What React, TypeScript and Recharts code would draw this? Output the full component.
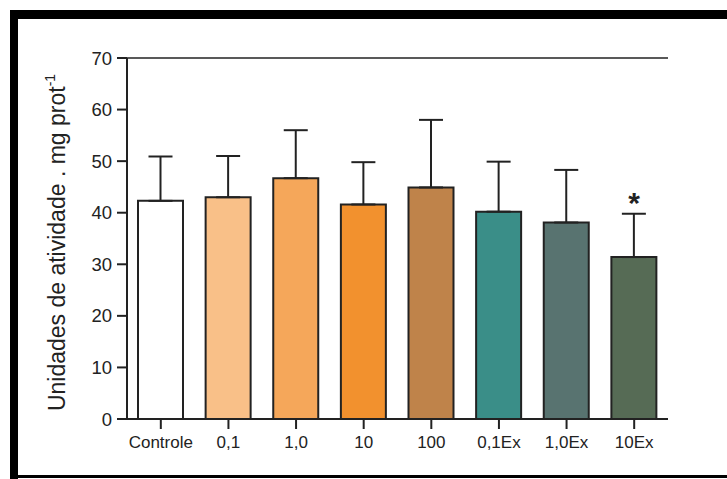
import { ComposedChart, Bar, Cell, ErrorBar, XAxis, YAxis, ReferenceLine, Line } from 'recharts';

const categories = ['Controle', '0,1', '1,0', '10', '100', '0,1Ex', '1,0Ex', '10Ex'];
const means = [42.3, 43.0, 46.7, 41.6, 44.9, 40.2, 38.1, 31.4];
const upperErrors = [8.6, 8.0, 9.3, 8.2, 13.1, 9.7, 10.2, 8.4];
const marks = ['', '', '', '', '', '', '', '*'];
const barColors = ['#ffffff', '#f9c088', '#f5a75a', '#f2912e', '#bf834a', '#3a8e88', '#587370', '#566b55'];
const yTicks = [0, 10, 20, 30, 40, 50, 60, 70];

const FONT = '"Liberation Sans", Arial, sans-serif';
const INK = '#222';

const data = categories.map((name, i) => ({
  name,
  mean: means[i],
  err: [0, upperErrors[i]],
  mark: marks[i],
  // asterisk sits a little above the error bar
  markY: marks[i] ? means[i] + upperErrors[i] + 3.4 : null,
}));

function StarDot(props: any) {
  const { cx, cy, payload, index } = props;
  if (cy == null || !payload?.mark) return <g key={`s${index}`} />;
  return (
    <text key={`s${index}`} x={cx} y={cy + 17} textAnchor="middle" fontSize={30} fontWeight="bold" fontFamily={FONT} fill={INK}>
      {payload.mark}
    </text>
  );
}

function XTick(props: any) {
  const { x, y, payload } = props;
  return (
    <text x={x} y={y + 17} textAnchor="middle" fontSize={17} fontFamily={FONT} fill={INK}>
      {payload.value}
    </text>
  );
}

function YTick(props: any) {
  const { x, y, payload } = props;
  return (
    <text x={x - 3} y={y + 6.5} textAnchor="end" fontSize={18.5} fontFamily={FONT} fill={INK}>
      {payload.value}
    </text>
  );
}

function YLabel(props: any) {
  const vb = props.viewBox || { x: 0, y: 58, width: 127, height: 361 };
  const x = 65;
  const y = vb.y + vb.height / 2 + 4;
  return (
    <text x={x} y={y} transform={`rotate(-90, ${x}, ${y})`} textAnchor="middle" fontSize={23} fontFamily={FONT} fill={INK}>
      Unidades de atividade . mg prot<tspan dy={-10} fontSize={14}>-1</tspan>
    </text>
  );
}

export default function App() {
  return (
    <div style={{ position: 'absolute', left: 0, top: 0, width: 727, height: 479, background: '#fff', overflow: 'hidden' }}>
      <ComposedChart width={727} height={479} data={data} margin={{ top: 58, right: 59, bottom: 0, left: 0 }}>
        <XAxis
          dataKey="name"
          height={60}
          tickSize={10}
          axisLine={{ stroke: INK, strokeWidth: 2 }}
          tickLine={{ stroke: INK, strokeWidth: 2 }}
          tick={<XTick />}
          interval={0}
        />
        <YAxis
          domain={[0, 70]}
          ticks={yTicks}
          width={127}
          tickSize={10}
          axisLine={{ stroke: INK, strokeWidth: 2 }}
          tickLine={{ stroke: INK, strokeWidth: 2 }}
          tick={<YTick />}
          label={{ content: (p: any) => <YLabel {...p} /> }}
        />
        <YAxis yAxisId="right" orientation="right" domain={[0, 70]} width={0} tick={false} tickLine={false} axisLine={{ stroke: INK, strokeWidth: 1.5 }} />
        <ReferenceLine y={70} stroke={INK} strokeWidth={1.5} />
        <Bar dataKey="mean" barSize={45} stroke={INK} strokeWidth={2} isAnimationActive={false}>
          {data.map((d, i) => (
            <Cell key={d.name} fill={barColors[i]} />
          ))}
          <ErrorBar dataKey="err" width={12} stroke={INK} strokeWidth={2} direction="y" />
        </Bar>
        <Line dataKey="markY" stroke="none" dot={<StarDot />} activeDot={false} legendType="none" isAnimationActive={false} />
      </ComposedChart>
      <div style={{ position: 'absolute', left: 10, top: 10, right: 0, height: 9, background: '#000' }} />
      <div style={{ position: 'absolute', left: 10, top: 10, bottom: 0, width: 8, background: '#000' }} />
      <div style={{ position: 'absolute', left: 10, bottom: 1, right: 0, height: 3, background: '#000' }} />
    </div>
  );
}
